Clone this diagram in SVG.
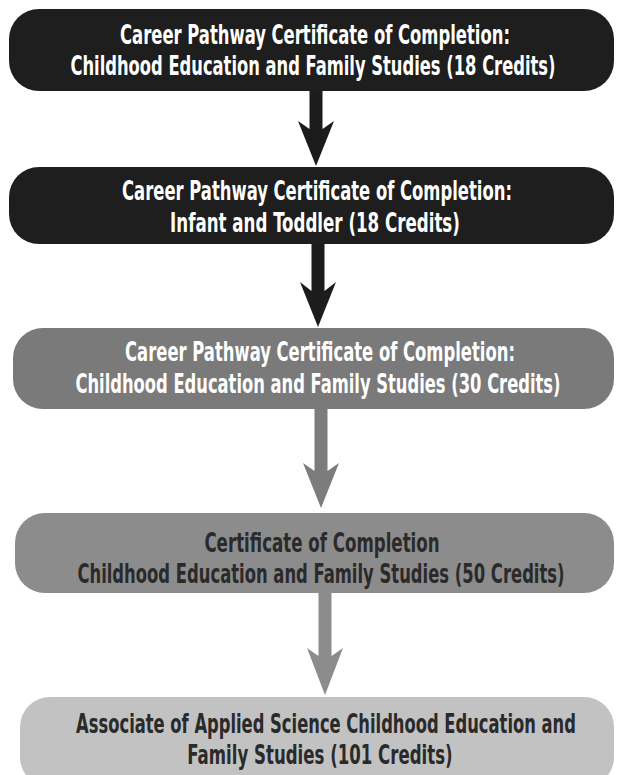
<svg xmlns="http://www.w3.org/2000/svg" width="617" height="775" viewBox="0 0 617 775">
<style>
text{font-family:"DejaVu Sans Condensed","DejaVu Sans","Liberation Sans",sans-serif;font-weight:bold;font-size:26px;text-anchor:middle}
.lt{fill:#ffffff}
.dk{fill:#2a2a2a}
</style>
<rect width="617" height="775" fill="#ffffff"/>
<g id="connectors">
<path d="M309.5 90 V129 L298 121 L316 166 L334 121 L322.5 129 V90 Z" fill="#1c1c1c"/>
<path d="M311.5 243 V291 L300 282 L318 327 L336 282 L324.5 291 V243 Z" fill="#1c1c1c"/>
<path d="M314.5 408 V471 L303 463 L321 508 L339 463 L327.5 471 V408 Z" fill="#7c7c7c"/>
<path d="M318.5 592 V656 L307 648 L325 695 L343 648 L331.5 656 V592 Z" fill="#8c8c8c"/>
</g>
<g id="node1">
<rect x="9" y="9" width="605" height="82" rx="30" fill="#1e1e1e"/>
<g transform="translate(315,44) scale(0.7,1)"><text class="lt" x="0" y="0" textLength="557" lengthAdjust="spacingAndGlyphs">Career Pathway Certificate of Completion:</text></g>
<g transform="translate(313,75) scale(0.7,1)"><text class="lt" x="0" y="0" textLength="693" lengthAdjust="spacingAndGlyphs">Childhood Education and Family Studies (18 Credits)</text></g>
</g>
<g id="node2">
<rect x="9" y="167" width="605" height="77" rx="30" fill="#1e1e1e"/>
<g transform="translate(317,200) scale(0.7,1)"><text class="lt" x="0" y="0" textLength="557" lengthAdjust="spacingAndGlyphs">Career Pathway Certificate of Completion:</text></g>
<g transform="translate(315,232) scale(0.7,1)"><text class="lt" x="0" y="0" textLength="414" lengthAdjust="spacingAndGlyphs">Infant and Toddler (18 Credits)</text></g>
</g>
<g id="node3">
<rect x="13" y="328" width="601" height="81" rx="30" fill="#7a7a7a"/>
<g transform="translate(320,361) scale(0.7,1)"><text class="lt" x="0" y="0" textLength="557" lengthAdjust="spacingAndGlyphs">Career Pathway Certificate of Completion:</text></g>
<g transform="translate(318,393) scale(0.7,1)"><text class="lt" x="0" y="0" textLength="693" lengthAdjust="spacingAndGlyphs">Childhood Education and Family Studies (30 Credits)</text></g>
</g>
<g id="node4">
<rect x="15" y="513" width="599" height="80" rx="30" fill="#8c8c8c"/>
<g transform="translate(322,552) scale(0.7,1)"><text class="dk" x="0" y="0" textLength="336" lengthAdjust="spacingAndGlyphs">Certificate of Completion</text></g>
<g transform="translate(321,583) scale(0.7,1)"><text class="dk" x="0" y="0" textLength="696" lengthAdjust="spacingAndGlyphs">Childhood Education and Family Studies (50 Credits)</text></g>
</g>
<g id="node5">
<rect x="20" y="697" width="594" height="90" rx="30" fill="#c2c2c2"/>
<g transform="translate(326,733) scale(0.7,1)"><text class="dk" x="0" y="0" textLength="714" lengthAdjust="spacingAndGlyphs">Associate of Applied Science Childhood Education and</text></g>
<g transform="translate(320,764) scale(0.7,1)"><text class="dk" x="0" y="0" textLength="379" lengthAdjust="spacingAndGlyphs">Family Studies (101 Credits)</text></g>
</g>
</svg>
